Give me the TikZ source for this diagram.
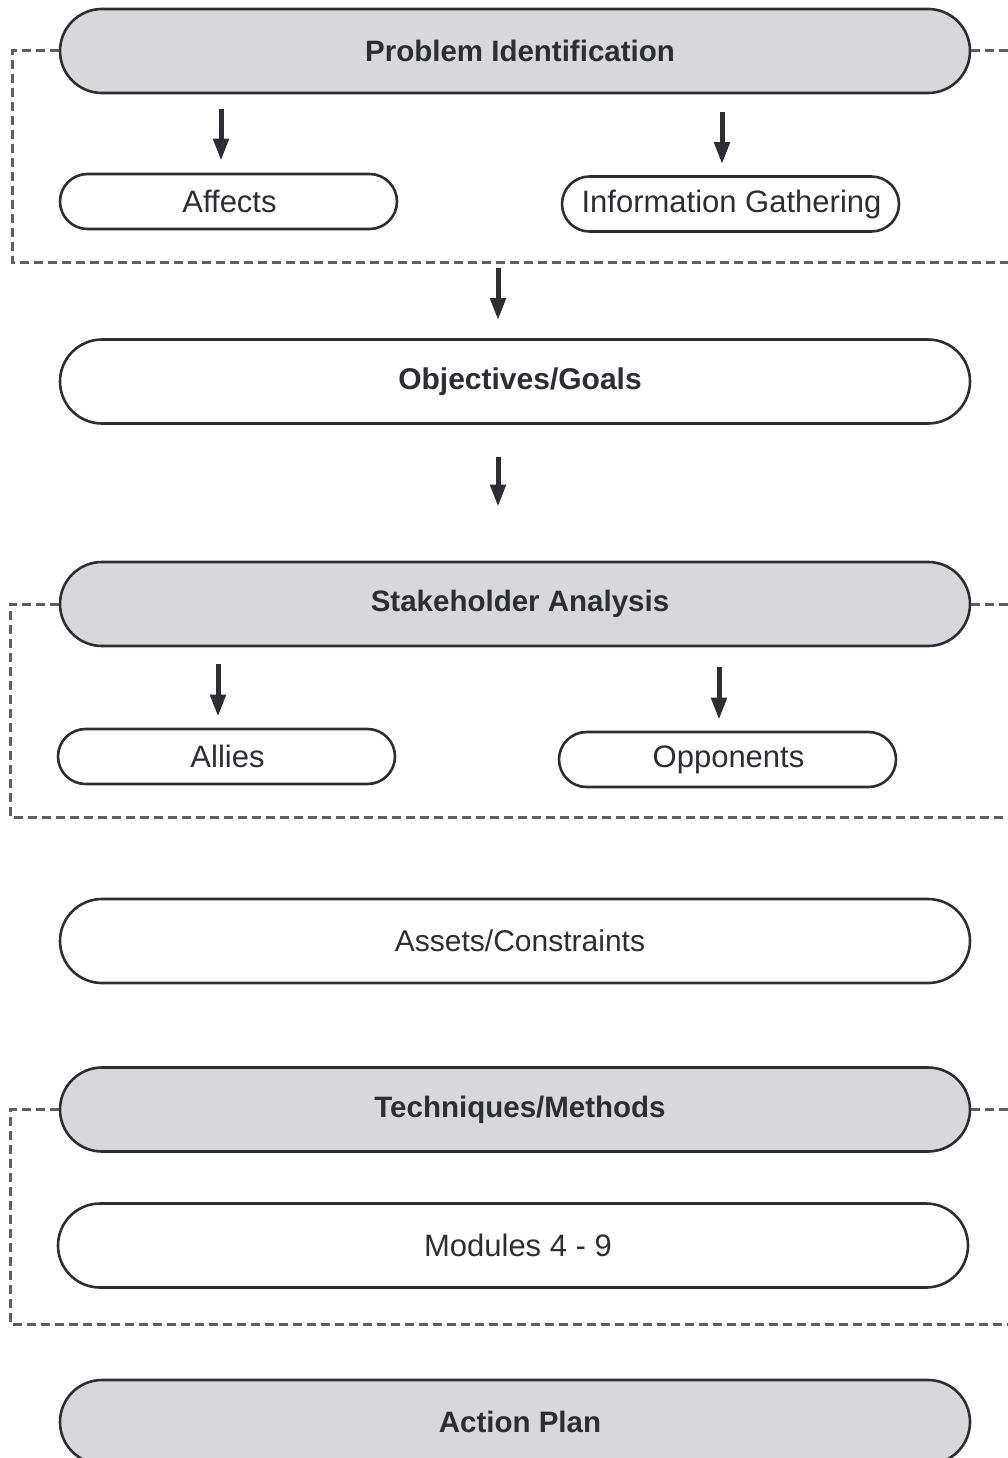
\documentclass[tikz,border=0pt]{standalone}
\usepackage{fontspec}
\setmainfont{Liberation Sans}
\usetikzlibrary{arrows.meta}
\definecolor{ink}{HTML}{2C2E33}
\definecolor{boxfill}{HTML}{D8D8DA}
\definecolor{dashgray}{HTML}{5E5F63}
\begin{document}
\begin{tikzpicture}[x=1pt,y=-1pt,
  pill/.style={draw=ink, line width=2.6pt, rectangle, rounded corners=#1,
    text=ink, inner sep=0pt, font=\fontsize{30}{35}\selectfont},
  wide/.style={pill=42pt, minimum width=910pt, minimum height=84pt,
    execute at begin node=\hspace*{10pt}},
  small/.style={pill=27.5pt, minimum width=337pt, minimum height=55pt,
    font=\fontsize{31}{36}\selectfont, execute at begin node=\hspace*{2pt}},
  head/.style={wide, fill=boxfill, font=\fontsize{29.5}{35}\selectfont\bfseries},
  plain/.style={wide, fill=white},
  boldplain/.style={wide, fill=white, font=\fontsize{30}{35}\selectfont\bfseries},
  arr/.style={draw=ink, line width=5pt, -{Triangle[width=15pt,length=22pt]}},
  group/.style={draw=dashgray, line width=3pt, dash pattern=on 9pt off 5pt}]
\useasboundingbox (0,0) rectangle (1008,1458);
\clip (0,0) rectangle (1008,1458);

% main column
\node[head]      (pi) at (515,51)     {Problem Identification};
\node[small]     (af) at (228.5,201.5) {Affects};
\node[small]     (ig) at (730.5,204)  {Information Gathering};
\node[boldplain] (og) at (515,381.5)  {Objectives/Goals};
\node[head]      (sa) at (515,604)    {Stakeholder Analysis};
\node[small]     (al) at (226.5,756.5) {Allies};
\node[small]     (op) at (727.5,759.5) {Opponents};
\node[plain]     (ac) at (515,941)    {Assets/Constraints};
\node[head]      (tm) at (515,1109.5) {Techniques/Methods};
\node[plain, font=\fontsize{31}{36}\selectfont] (md) at (513,1245.5) {Modules 4 - 9};
\node[head]      (ap) at (515,1422)   {Action Plan};

% dashed group frames
\coordinate (g1) at (12,262);
\coordinate (g2) at (10,817);
\coordinate (g3) at (10,1324);
\coordinate (rim) at (1020,0);
\draw[group] (pi.west) -| (g1) -- (g1 -| rim);
\draw[group] (pi.east) -- (pi.east -| rim);
\draw[group] (sa.west) -| (g2) -- (g2 -| rim);
\draw[group] (sa.east) -- (sa.east -| rim);
\draw[group] (tm.west) -| (g3) -- (g3 -| rim);
\draw[group] (tm.east) -- (tm.east -| rim);

% arrows
\coordinate (x1) at (221,0);
\coordinate (x2) at (722,0);
\coordinate (x3) at (498,0);
\coordinate (x4) at (218,0);
\coordinate (x5) at (719,0);
\draw[arr, shorten <=15pt, shorten >=12pt] (pi.south -| x1) -- (af.north -| x1);
\draw[arr, shorten <=18pt, shorten >=11pt] (pi.south -| x2) -- (ig.north -| x2);
\draw[arr, shorten <=6pt, shorten >=18pt] (g1 -| x3) -- (og.north -| x3);
\draw[arr, shorten <=32pt, shorten >=54pt] (og.south -| x3) -- (sa.north -| x3);
\draw[arr, shorten <=17pt, shorten >=11pt] (sa.south -| x4) -- (al.north -| x4);
\draw[arr, shorten <=20pt, shorten >=11pt] (sa.south -| x5) -- (op.north -| x5);
\end{tikzpicture}
\end{document}
